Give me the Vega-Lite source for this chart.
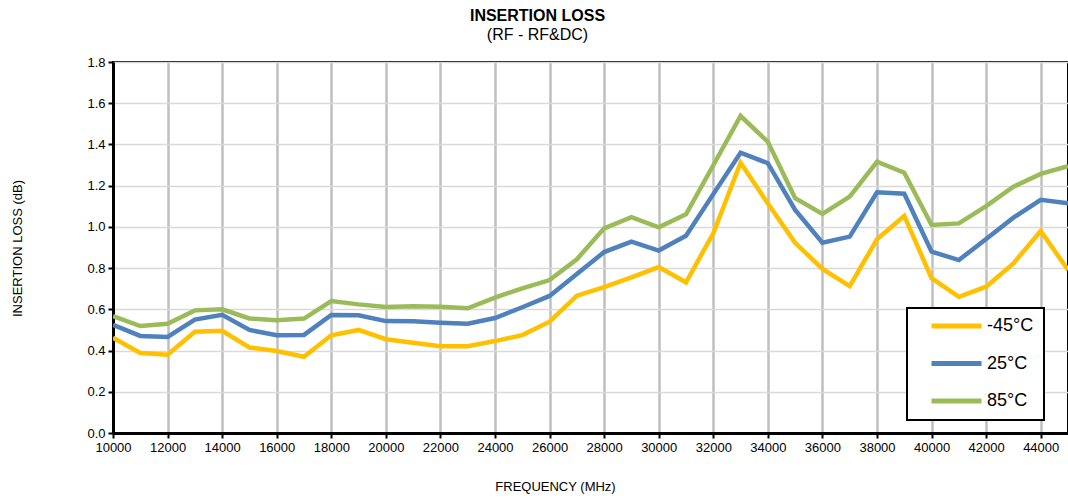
{
  "$schema": "https://vega.github.io/schema/vega-lite/v6.json",
  "width": 955,
  "height": 371,
  "autosize": {"type": "none"},
  "padding": {"left": 113, "top": 62, "right": 0, "bottom": 67},
  "background": "white",
  "title": {
    "text": "INSERTION LOSS",
    "subtitle": "(RF - RF&DC)",
    "anchor": "middle",
    "dx": -53,
    "offset": 13,
    "font": "Liberation Sans",
    "fontSize": 16,
    "fontWeight": "bold",
    "color": "black",
    "subtitleFont": "Liberation Sans",
    "subtitleFontSize": 16,
    "subtitleColor": "black",
    "subtitlePadding": 3
  },
  "data": {
    "values": [
      {"f": 10000, "t": "-45°C", "v": 0.462}, {"f": 11000, "t": "-45°C", "v": 0.388}, {"f": 12000, "t": "-45°C", "v": 0.380},
      {"f": 13000, "t": "-45°C", "v": 0.491}, {"f": 14000, "t": "-45°C", "v": 0.496}, {"f": 15000, "t": "-45°C", "v": 0.415},
      {"f": 16000, "t": "-45°C", "v": 0.398}, {"f": 17000, "t": "-45°C", "v": 0.370}, {"f": 18000, "t": "-45°C", "v": 0.474},
      {"f": 19000, "t": "-45°C", "v": 0.500}, {"f": 20000, "t": "-45°C", "v": 0.455}, {"f": 21000, "t": "-45°C", "v": 0.438},
      {"f": 22000, "t": "-45°C", "v": 0.421}, {"f": 23000, "t": "-45°C", "v": 0.421}, {"f": 24000, "t": "-45°C", "v": 0.446},
      {"f": 25000, "t": "-45°C", "v": 0.475}, {"f": 26000, "t": "-45°C", "v": 0.540}, {"f": 27000, "t": "-45°C", "v": 0.666},
      {"f": 28000, "t": "-45°C", "v": 0.708}, {"f": 29000, "t": "-45°C", "v": 0.755}, {"f": 30000, "t": "-45°C", "v": 0.805},
      {"f": 31000, "t": "-45°C", "v": 0.731}, {"f": 32000, "t": "-45°C", "v": 0.969}, {"f": 33000, "t": "-45°C", "v": 1.311},
      {"f": 34000, "t": "-45°C", "v": 1.114}, {"f": 35000, "t": "-45°C", "v": 0.923}, {"f": 36000, "t": "-45°C", "v": 0.796},
      {"f": 37000, "t": "-45°C", "v": 0.713}, {"f": 38000, "t": "-45°C", "v": 0.940}, {"f": 39000, "t": "-45°C", "v": 1.053},
      {"f": 40000, "t": "-45°C", "v": 0.751}, {"f": 41000, "t": "-45°C", "v": 0.661}, {"f": 42000, "t": "-45°C", "v": 0.710},
      {"f": 43000, "t": "-45°C", "v": 0.823}, {"f": 44000, "t": "-45°C", "v": 0.980}, {"f": 45000, "t": "-45°C", "v": 0.791},

      {"f": 10000, "t": "25°C", "v": 0.525}, {"f": 11000, "t": "25°C", "v": 0.471}, {"f": 12000, "t": "25°C", "v": 0.466},
      {"f": 13000, "t": "25°C", "v": 0.550}, {"f": 14000, "t": "25°C", "v": 0.573}, {"f": 15000, "t": "25°C", "v": 0.500},
      {"f": 16000, "t": "25°C", "v": 0.474}, {"f": 17000, "t": "25°C", "v": 0.476}, {"f": 18000, "t": "25°C", "v": 0.573},
      {"f": 19000, "t": "25°C", "v": 0.571}, {"f": 20000, "t": "25°C", "v": 0.543}, {"f": 21000, "t": "25°C", "v": 0.542},
      {"f": 22000, "t": "25°C", "v": 0.535}, {"f": 23000, "t": "25°C", "v": 0.530}, {"f": 24000, "t": "25°C", "v": 0.558},
      {"f": 25000, "t": "25°C", "v": 0.610}, {"f": 26000, "t": "25°C", "v": 0.665}, {"f": 27000, "t": "25°C", "v": 0.771},
      {"f": 28000, "t": "25°C", "v": 0.878}, {"f": 29000, "t": "25°C", "v": 0.928}, {"f": 30000, "t": "25°C", "v": 0.885},
      {"f": 31000, "t": "25°C", "v": 0.957}, {"f": 32000, "t": "25°C", "v": 1.159}, {"f": 33000, "t": "25°C", "v": 1.360},
      {"f": 34000, "t": "25°C", "v": 1.309}, {"f": 35000, "t": "25°C", "v": 1.082}, {"f": 36000, "t": "25°C", "v": 0.923},
      {"f": 37000, "t": "25°C", "v": 0.953}, {"f": 38000, "t": "25°C", "v": 1.168}, {"f": 39000, "t": "25°C", "v": 1.161},
      {"f": 40000, "t": "25°C", "v": 0.880}, {"f": 41000, "t": "25°C", "v": 0.839}, {"f": 42000, "t": "25°C", "v": 0.941},
      {"f": 43000, "t": "25°C", "v": 1.045}, {"f": 44000, "t": "25°C", "v": 1.131}, {"f": 45000, "t": "25°C", "v": 1.115},

      {"f": 10000, "t": "85°C", "v": 0.567}, {"f": 11000, "t": "85°C", "v": 0.519}, {"f": 12000, "t": "85°C", "v": 0.530},
      {"f": 13000, "t": "85°C", "v": 0.595}, {"f": 14000, "t": "85°C", "v": 0.600}, {"f": 15000, "t": "85°C", "v": 0.556},
      {"f": 16000, "t": "85°C", "v": 0.547}, {"f": 17000, "t": "85°C", "v": 0.555}, {"f": 18000, "t": "85°C", "v": 0.640},
      {"f": 19000, "t": "85°C", "v": 0.624}, {"f": 20000, "t": "85°C", "v": 0.611}, {"f": 21000, "t": "85°C", "v": 0.615},
      {"f": 22000, "t": "85°C", "v": 0.613}, {"f": 23000, "t": "85°C", "v": 0.605}, {"f": 24000, "t": "85°C", "v": 0.657},
      {"f": 25000, "t": "85°C", "v": 0.702}, {"f": 26000, "t": "85°C", "v": 0.742}, {"f": 27000, "t": "85°C", "v": 0.843},
      {"f": 28000, "t": "85°C", "v": 0.993}, {"f": 29000, "t": "85°C", "v": 1.047}, {"f": 30000, "t": "85°C", "v": 0.998},
      {"f": 31000, "t": "85°C", "v": 1.061}, {"f": 32000, "t": "85°C", "v": 1.299}, {"f": 33000, "t": "85°C", "v": 1.538},
      {"f": 34000, "t": "85°C", "v": 1.413}, {"f": 35000, "t": "85°C", "v": 1.139}, {"f": 36000, "t": "85°C", "v": 1.063},
      {"f": 37000, "t": "85°C", "v": 1.147}, {"f": 38000, "t": "85°C", "v": 1.316}, {"f": 39000, "t": "85°C", "v": 1.263},
      {"f": 40000, "t": "85°C", "v": 1.009}, {"f": 41000, "t": "85°C", "v": 1.017}, {"f": 42000, "t": "85°C", "v": 1.101},
      {"f": 43000, "t": "85°C", "v": 1.195}, {"f": 44000, "t": "85°C", "v": 1.257}, {"f": 45000, "t": "85°C", "v": 1.295}
    ]
  },
  "mark": {"type": "line", "strokeWidth": 4.5, "strokeJoin": "miter", "clip": true},
  "encoding": {
    "x": {
      "field": "f",
      "type": "quantitative",
      "scale": {"domain": [10000, 45000], "nice": false, "zero": false},
      "axis": {
        "title": "FREQUENCY (MHz)",
        "values": [10000, 12000, 14000, 16000, 18000, 20000, 22000, 24000, 26000, 28000, 30000, 32000, 34000, 36000, 38000, 40000, 42000, 44000],
        "format": "d",
        "labelFlush": false,
        "labelOverlap": false,
        "gridColor": "#BFBFBF",
        "gridWidth": 2.5,
        "titleX": 442,
        "titleY": 57,
        "titleBaseline": "alphabetic",
        "titleAnchor": null
      }
    },
    "y": {
      "field": "v",
      "type": "quantitative",
      "scale": {"domain": [0, 1.8], "nice": false},
      "axis": {
        "title": "INSERTION LOSS (dB)",
        "values": [0, 0.2, 0.4, 0.6, 0.8, 1.0, 1.2, 1.4, 1.6, 1.8],
        "format": ".1f",
        "labelFlush": false,
        "gridColor": "#D9D9D9",
        "gridWidth": 1.5,
        "titleX": -96,
        "titleY": 186,
        "titleAngle": -90,
        "titleAlign": "center",
        "titleBaseline": "middle",
        "titleAnchor": null
      }
    },
    "color": {
      "field": "t",
      "type": "nominal",
      "sort": ["-45°C", "25°C", "85°C"],
      "scale": {"domain": ["-45°C", "25°C", "85°C"], "range": ["#FFC000", "#4F81BD", "#9BBB59"]},
      "legend": {
        "title": null,
        "orient": "none",
        "legendX": 794,
        "legendY": 246,
        "symbolType": "stroke",
        "symbolSize": 2500,
        "symbolStrokeWidth": 5,
        "clipHeight": 16,
        "labelFontSize": 18,
        "labelFont": "Liberation Sans",
        "labelColor": "black",
        "labelOffset": 3,
        "rowPadding": 19.5,
        "padding": 10,
        "symbolOffset": 12,
        "strokeColor": "black",
        "fillColor": "white"
      }
    }
  },
  "config": {
    "view": {"stroke": "black", "strokeWidth": 2},
    "legend": {"strokeWidth": 2},
    "axis": {
      "domainColor": "black",
      "domainWidth": 3,
      "tickColor": "black",
      "tickWidth": 2,
      "tickSize": 5,
      "labelFont": "Liberation Sans",
      "labelFontSize": 13,
      "labelColor": "black",
      "labelPadding": 3,
      "titleFont": "Liberation Sans",
      "titleFontSize": 13,
      "titleFontWeight": "normal",
      "titleColor": "black"
    }
  }
}
